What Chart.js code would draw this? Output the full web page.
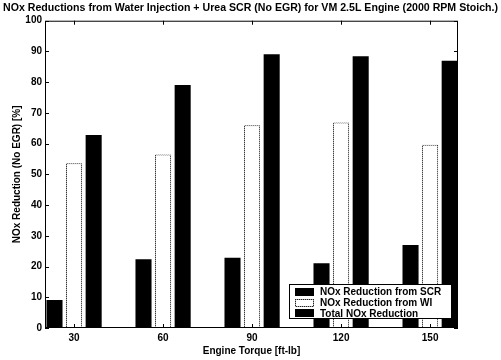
<!DOCTYPE html>
<html lang="en">
  <head>
    <meta charset="utf-8" />
    <title>NOx Reductions</title>
    <style>
      html, body { margin: 0; padding: 0; background: #fff; }
      #wrap { width: 501px; height: 360px; }
    </style>
  </head>
  <body>
    <div id="wrap"><canvas id="bar-chart" width="501" height="360"></canvas></div>

    <script src="https://cdn.jsdelivr.net/npm/chart.js@4.4.0/dist/chart.umd.min.js"></script>
    <script>
      const TORQUE = [30, 60, 90, 120, 150];
      const SCR_VALUES = [9.1, 22.4, 22.9, 21.1, 27.0];
      const WI_VALUES = [53.6, 56.5, 66.0, 66.9, 59.6];
      const TOTAL_VALUES = [62.8, 79.1, 89.1, 88.4, 87.0];
      const Y_TICKS = [0, 10, 20, 30, 40, 50, 60, 70, 80, 90, 100];

      const FONT = '"Liberation Sans", Arial, sans-serif';

      // dotted grey outline for the WI bars (checkerboard used as fill of the border)
      const dotCanvas = document.createElement("canvas");
      dotCanvas.width = 2;
      dotCanvas.height = 2;
      const dctx = dotCanvas.getContext("2d");
      dctx.fillStyle = "#aaa";
      dctx.fillRect(0, 0, 2, 2);
      dctx.fillStyle = "#222";
      dctx.fillRect(0, 0, 1, 1);
      dctx.fillRect(1, 1, 1, 1);
      const dotted = dctx.createPattern(dotCanvas, "repeat");

      const toPoints = (vals) => vals.map((v, i) => ({ x: TORQUE[i], y: v }));

      // axes box, inward ticks and the legend inside the plot
      const framePlugin = {
        id: "frame",
        afterDatasetsDraw(chart) {
          const { ctx, chartArea: a, scales } = chart;
          ctx.save();
          ctx.strokeStyle = "#000";
          ctx.lineWidth = 1;
          ctx.strokeRect(a.left + 0.5, a.top + 0.5, a.width - 1, a.height - 1);
          ctx.beginPath();
          scales.y.ticks.forEach((t) => {
            const py = Math.round(scales.y.getPixelForValue(t.value)) + 0.5;
            ctx.moveTo(a.left, py);
            ctx.lineTo(a.left + 4, py);
            ctx.moveTo(a.right, py);
            ctx.lineTo(a.right - 4, py);
          });
          scales.x.ticks.forEach((t) => {
            const px = Math.round(scales.x.getPixelForValue(t.value)) + 0.5;
            ctx.moveTo(px, a.bottom);
            ctx.lineTo(px, a.bottom - 4);
            ctx.moveTo(px, a.top);
            ctx.lineTo(px, a.top + 4);
          });
          ctx.stroke();

          // legend
          const lx = 289, ly = 284, lw = 163, lh = 35;
          ctx.fillStyle = "#fff";
          ctx.fillRect(lx, ly, lw, lh);
          ctx.strokeRect(lx + 0.5, ly + 0.5, lw - 1, lh - 1);
          ctx.font = "bold 10px " + FONT;
          ctx.textBaseline = "middle";
          ctx.textAlign = "left";
          chart.data.datasets.forEach((ds, i) => {
            const cy = ly + 8 + i * 10.7;
            ctx.fillStyle = ds.borderColor;
            ctx.fillRect(lx + 6, Math.round(cy - 4), 19, 8);
            ctx.fillStyle = ds.backgroundColor;
            ctx.fillRect(lx + 7, Math.round(cy - 3), 17, 6);
            ctx.fillStyle = "#000";
            ctx.fillText(ds.label, lx + 31, cy + 0.5);
          });
          ctx.restore();
        },
      };

      new Chart(document.getElementById("bar-chart"), {
        type: "bar",
        data: {
          datasets: [
            {
              label: "NOx Reduction from SCR",
              data: toPoints(SCR_VALUES),
              backgroundColor: "#000",
              borderColor: "#000",
              borderWidth: 0,
            },
            {
              label: "NOx Reduction from WI",
              data: toPoints(WI_VALUES),
              backgroundColor: "#fff",
              borderColor: dotted,
              borderWidth: 1,
            },
            {
              label: "Total NOx Reduction",
              data: toPoints(TOTAL_VALUES),
              backgroundColor: "#000",
              borderColor: "#000",
              borderWidth: 0,
            },
          ],
        },
        options: {
          responsive: false,
          animation: false,
          categoryPercentage: 0.66,
          barPercentage: 0.82,
          layout: { padding: 0 },
          plugins: {
            legend: { display: false },
            tooltip: { enabled: false },
            title: {
              display: true,
              text: "NOx Reductions from Water Injection + Urea SCR (No EGR) for VM 2.5L Engine (2000 RPM Stoich.)",
              color: "#000",
              font: { family: FONT, size: 10.6, weight: "bold" },
              padding: { top: 2, bottom: 6 },
            },
          },
          scales: {
            x: {
              type: "linear",
              offset: false,
              min: 20.2,
              max: 159.4,
              grid: { display: false, drawTicks: false },
              border: { display: false },
              afterBuildTicks: (s) => {
                s.ticks = TORQUE.map((v) => ({ value: v }));
              },
              afterFit: (s) => {
                s.height = 32;
              },
              ticks: {
                color: "#000",
                padding: 4,
                maxRotation: 0,
                font: { family: FONT, size: 10, weight: "bold" },
              },
              title: {
                display: true,
                text: "Engine Torque [ft-lb]",
                color: "#000",
                font: { family: FONT, size: 10, weight: "bold" },
                padding: { top: 0, bottom: 3 },
              },
            },
            y: {
              min: 0,
              max: 100,
              grid: { display: false, drawTicks: false },
              border: { display: false },
              afterBuildTicks: (s) => {
                s.ticks = Y_TICKS.map((v) => ({ value: v }));
              },
              afterFit: (s) => {
                s.width = 45;
              },
              ticks: {
                color: "#000",
                padding: 3,
                font: { family: FONT, size: 10, weight: "bold" },
              },
              title: {
                display: true,
                text: "NOx Reduction (No EGR) [%]",
                color: "#000",
                font: { family: FONT, size: 10, weight: "bold" },
                padding: { top: 11, bottom: 0 },
              },
            },
            // empty right-hand axis, only reserves the white margin right of the plot
            yRight: {
              position: "right",
              min: 0,
              max: 100,
              grid: { display: false, drawTicks: false },
              border: { display: false },
              ticks: { display: false },
              afterFit: (s) => {
                s.width = 43;
              },
            },
          },
        },
        plugins: [framePlugin],
      });
    </script>
  </body>
</html>
